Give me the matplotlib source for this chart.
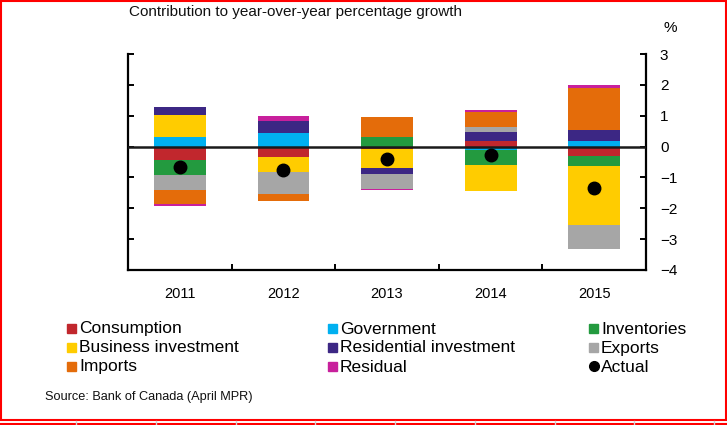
import numpy as np
import matplotlib
matplotlib.use('Agg')
import matplotlib.pyplot as plt
from matplotlib.patches import Rectangle

years = ['2011', '2012', '2013', '2014', '2015']

# contributions, percentage points
consumption = [-0.45, -0.35, -0.08, 0.18, -0.32]
government = [0.32, 0.43, 0.0, -0.12, 0.18]
inventories = [-0.46, 0.0, 0.32, -0.47, -0.30]
business = [0.70, -0.49, -0.60, -0.84, -1.93]
residential = [0.25, 0.41, -0.22, 0.30, 0.36]
exports = [-0.51, -0.70, -0.48, 0.15, -0.77]
imports = [-0.43, -0.23, 0.65, 0.50, 1.37]
residual = [-0.06, 0.15, -0.03, 0.05, 0.09]
actual = [-0.65, -0.76, -0.39, -0.27, -1.33]

names = ['Consumption', 'Government', 'Inventories', 'Business investment',
         'Residential investment', 'Exports', 'Imports', 'Residual']
series = [consumption, government, inventories, business,
          residential, exports, imports, residual]
colors = ['#C1272D', '#00B0F0', '#239A3F', '#FFCC00',
          '#3C2784', '#A6A6A6', '#E46C0A', '#C8209C']

plt.rcParams['font.family'] = ['Liberation Sans', 'DejaVu Sans']

fig = plt.figure(figsize=(7.27, 4.25), dpi=100)
ax = fig.add_axes([128 / 727, 1 - 270 / 425, 518 / 727, 216 / 425])

x = np.arange(len(years))
pos = np.zeros(len(years))
neg = np.zeros(len(years))
for vals, c in zip(series, colors):
    v = np.array(vals)
    p = np.where(v > 0, v, 0)
    n = np.where(v < 0, v, 0)
    ax.bar(x, p, 0.5, bottom=pos, color=c, linewidth=0)
    ax.bar(x, n, 0.5, bottom=neg, color=c, linewidth=0)
    pos += p
    neg += n

ax.axhline(0, color='#1a1a1a', linewidth=1.8, zorder=3)
ax.plot(x, actual, 'o', color='black', markersize=9, zorder=4)

ax.set_xlim(-0.5, 4.5)
ax.set_ylim(-4, 3)
ax.set_yticks(range(-4, 4))
ax.set_xticks(x, years)
ax.set_xticks(np.arange(0.5, 4.5, 1), minor=True)

ax.spines['top'].set_visible(False)
for s in ('left', 'right', 'bottom'):
    ax.spines[s].set_linewidth(1.6)
ax.tick_params(axis='y', direction='in', length=4, width=1.4,
               left=True, right=True, labelleft=False, labelright=True,
               labelsize=11, pad=10)
ax.tick_params(axis='x', which='major', length=0, labelsize=10.5, pad=12)
ax.tick_params(axis='x', which='minor', direction='in', length=4, width=1.4)

# overlay in pixel coords for text, legend and frame
ov = fig.add_axes([0, 0, 1, 1], zorder=-1)
ov.set_xlim(0, 727)
ov.set_ylim(425, 0)
ov.axis('off')

ov.text(129, 16, 'Contribution to year-over-year percentage growth',
        fontsize=11, va='baseline', color='#111111')
ov.text(670, 28, '%', fontsize=11, ha='center', va='center')

col_x = [67, 328, 589]
row_y = [329, 348, 367]
for i, (nm, c) in enumerate(zip(names, colors)):
    cx = col_x[i % 3]
    cy = row_y[i // 3]
    ov.add_patch(Rectangle((cx, cy - 5), 8.5, 8.5, color=c))
    ov.text(cx + 12, cy, nm, fontsize=12.5, va='center')
ov.plot(col_x[2] + 4.5, row_y[2] - 1, 'o', color='black', markersize=7)
ov.text(col_x[2] + 12, row_y[2], 'Actual', fontsize=12.5, va='center')

ov.text(45, 397, 'Source: Bank of Canada (April MPR)', fontsize=9.2,
        va='center', color='#111111')

# screenshot frame
ov.add_patch(Rectangle((1, 1), 725, 419, fill=False, edgecolor='#FF0000',
                       linewidth=1.5))
ov.plot([0, 727], [424, 424], color='#FF0000', linewidth=1.5)
for gx in np.arange(76, 727, 79.75):
    ov.plot([gx, gx], [421, 424], color='#D0D0D0', linewidth=1)

fig.savefig('out.png', dpi=100)
